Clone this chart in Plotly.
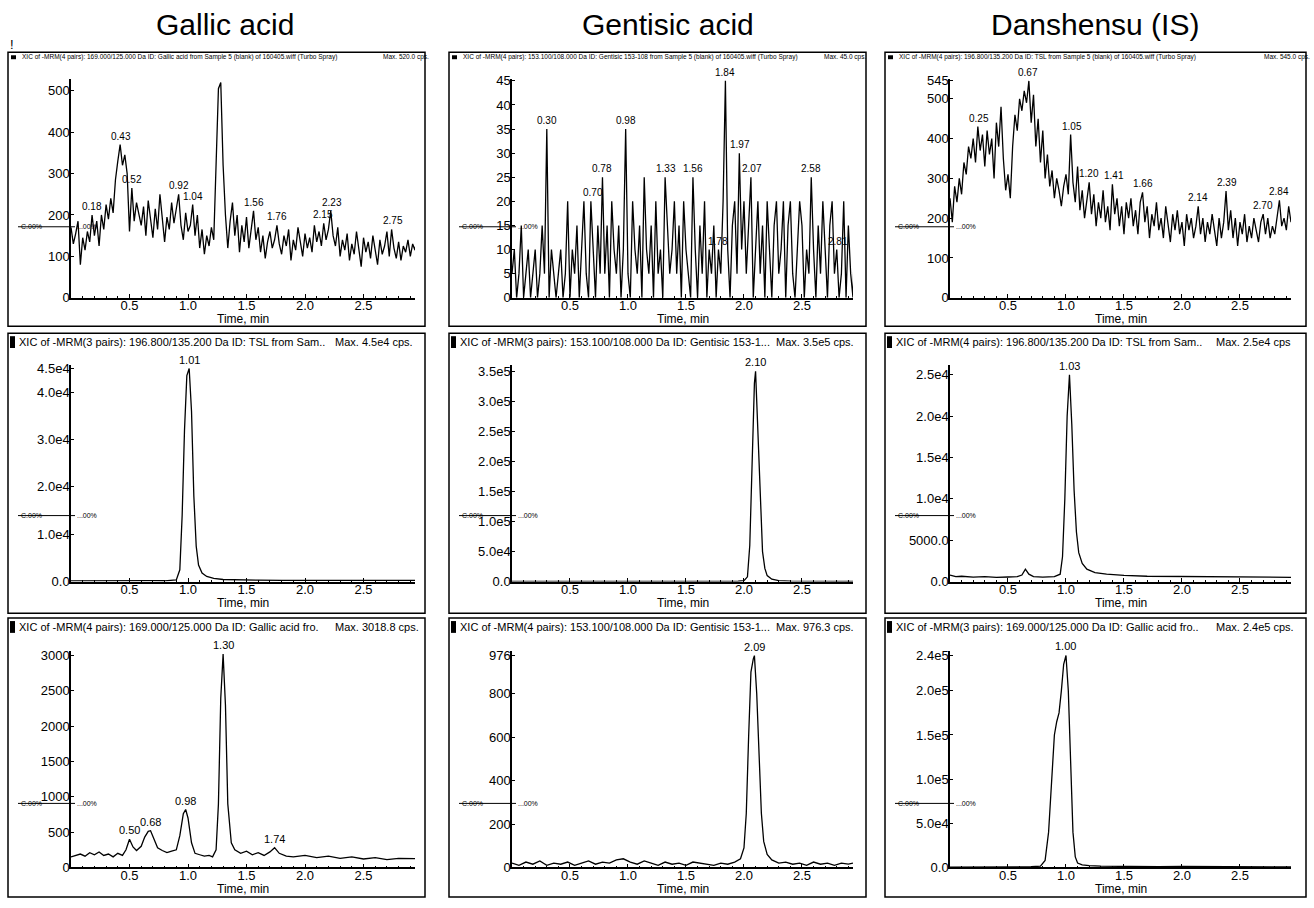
import numpy as np
import plotly.graph_objects as go

W, H = 1314, 908
FONT = "Liberation Sans, Arial, sans-serif"

# ---------------- data ----------------
# blank-sample traces, sampled every 0.02 min
t_blank = np.round(np.arange(150) * 0.02, 2)

gallic_blank = [
    170, 130, 155, 185, 80, 145, 115, 160, 135, 200,
    150, 185, 125, 200, 165, 225, 190, 240, 205, 285,
    330, 370, 320, 345, 300, 160, 265, 185, 230, 205,
    175, 220, 150, 235, 190, 145, 215, 165, 250, 200,
    135, 195, 165, 230, 180, 215, 250, 175, 140, 205,
    160, 175, 225, 150, 200, 120, 165, 105, 150, 125,
    170, 140, 300, 505, 520, 320, 200, 120, 185, 230,
    150, 200, 110, 175, 135, 195, 120, 165, 210, 140,
    170, 110, 150, 95, 135, 160, 120, 140, 175, 130,
    105, 150, 125, 165, 90, 140, 115, 170, 130, 100,
    155, 120, 145, 110, 175, 135, 160, 125, 180, 140,
    165, 210, 150, 125, 170, 100, 140, 115, 155, 90,
    130, 105, 160, 120, 75, 145, 110, 135, 95, 150,
    115, 80, 140, 105, 125, 160, 100, 165, 120, 95,
    135, 90, 125, 110, 140, 100, 130, 115, 150, 120,
]

gentisic_blank = [
    5, 10, 0, 5, 15, 0, 5, 10, 0, 5,
    10, 0, 5, 15, 5, 35, 0, 10, 5, 0,
    5, 10, 0, 5, 20, 0, 10, 5, 15, 0,
    10, 20, 5, 0, 20, 10, 0, 15, 5, 25,
    5, 15, 0, 20, 10, 5, 15, 0, 10, 35,
    5, 0, 20, 10, 5, 15, 0, 25, 10, 5,
    15, 0, 20, 5, 10, 0, 25, 15, 5, 10,
    20, 5, 15, 0, 20, 10, 5, 0, 25, 10,
    0, 15, 5, 20, 0, 10, 5, 15, 0, 10,
    5, 20, 45, 10, 0, 15, 20, 5, 30, 10,
    20, 5, 15, 25, 0, 10, 20, 5, 15, 0,
    20, 10, 0, 15, 20, 5, 10, 20, 0, 15,
    20, 5, 0, 10, 20, 15, 0, 10, 5, 25,
    10, 0, 15, 5, 20, 10, 0, 15, 20, 5,
    10, 0, 5, 20, 0, 15, 5, 0, 20, 5,
]

danshensu_blank = [
    250, 190, 280, 240, 300, 260, 340, 310, 380, 350,
    400, 340, 430, 370, 410, 330, 420, 360, 400, 300,
    440, 380, 480, 350, 270, 310, 250, 380, 460, 420,
    500, 470, 520, 490, 545, 440, 510, 380, 450, 340,
    420, 300, 360, 280, 320, 250, 300, 270, 230, 280,
    310, 260, 410, 290, 240, 330, 220, 270, 200, 250,
    290, 210, 260, 180, 240, 200, 270, 190, 230, 170,
    285, 210, 250, 180, 230, 160, 240, 200, 250, 180,
    220, 160, 240, 265, 190, 230, 150, 210, 180, 240,
    170, 200, 150, 230, 180, 140, 210, 170, 220, 160,
    190, 130, 210, 170, 200, 150, 180, 230, 160, 200,
    140, 190, 160, 210, 170, 130, 200, 150, 190, 268,
    170, 220, 150, 200, 130, 190, 160, 210, 140, 180,
    150, 200, 170, 140, 190, 210, 160, 200, 150, 180,
    160, 200, 245, 180, 200, 170, 230, 190, 220, 200,
]

# spiked-sample traces
t_tsl_a = [0.00, 0.10, 0.20, 0.30, 0.40, 0.50, 0.60, 0.70, 0.80, 0.86, 0.90, 0.93, 0.95,
           0.97, 0.99, 1.01, 1.03, 1.05, 1.07, 1.09, 1.12, 1.16, 1.22, 1.30, 1.40, 1.60,
           1.80, 2.00, 2.20, 2.40, 2.60, 2.80, 2.94]
v_tsl_a = [150, 180, 140, 200, 160, 190, 170, 210, 180, 220, 350, 2500, 14000,
           32000, 43500, 45000, 36000, 18000, 7500, 3500, 1800, 1100, 700, 450, 350, 300,
           280, 260, 300, 250, 270, 240, 260]

t_gent_a = [0.00, 0.20, 0.40, 0.60, 0.80, 1.00, 1.20, 1.40, 1.60, 1.80, 1.95, 2.00, 2.03,
            2.05, 2.07, 2.09, 2.10, 2.12, 2.14, 2.16, 2.18, 2.20, 2.24, 2.30, 2.40, 2.60,
            2.80, 2.94]
v_gent_a = [300, 250, 350, 280, 320, 300, 270, 350, 300, 280, 600, 1500, 8000,
            60000, 200000, 330000, 350000, 250000, 120000, 50000, 22000, 10000, 4000,
            1500, 800, 500, 400, 350]

t_tsl_b = [0.00, 0.05, 0.10, 0.20, 0.30, 0.40, 0.50, 0.58, 0.62, 0.65, 0.68, 0.72, 0.80,
           0.90, 0.95, 0.97, 0.99, 1.01, 1.03, 1.05, 1.07, 1.09, 1.11, 1.14, 1.18, 1.25,
           1.35, 1.50, 1.70, 2.00, 2.30, 2.60, 2.94]
v_tsl_b = [800, 600, 650, 550, 600, 520, 560, 600, 800, 1500, 900, 600, 550,
           600, 900, 3000, 10000, 20000, 25000, 19000, 11000, 6000, 3500, 2200, 1500, 1100,
           900, 750, 650, 600, 550, 500, 520]

t_gal_b = [0.00, 0.04, 0.08, 0.12, 0.16, 0.20, 0.24, 0.28, 0.32, 0.36, 0.40, 0.44, 0.47,
           0.50, 0.53, 0.56, 0.60, 0.63, 0.66, 0.68, 0.71, 0.74, 0.78, 0.82, 0.86, 0.90,
           0.93, 0.96, 0.98, 1.00, 1.03, 1.06, 1.10, 1.14, 1.18, 1.21, 1.24, 1.26, 1.28,
           1.30, 1.32, 1.34, 1.37, 1.40, 1.45, 1.50, 1.55, 1.60, 1.65, 1.70, 1.74, 1.78,
           1.84, 1.90, 2.00, 2.10, 2.20, 2.30, 2.40, 2.50, 2.60, 2.70, 2.80, 2.90, 2.94]
v_gal_b = [150, 170, 190, 160, 210, 180, 220, 170, 190, 150, 200, 170, 250,
           400, 290, 240, 300, 430, 510, 520, 400, 280, 240, 210, 230, 250,
           450, 760, 820, 700, 350, 200, 180, 160, 170, 150, 250, 900, 2400,
           3018, 2300, 900, 350, 250, 200, 230, 180, 210, 170, 220, 280, 200,
           160, 150, 170, 140, 160, 130, 150, 120, 140, 110, 130, 120, 125]

t_gent_b = [0.00, 0.06, 0.12, 0.18, 0.24, 0.30, 0.36, 0.42, 0.48, 0.54, 0.60, 0.66, 0.72,
            0.78, 0.84, 0.90, 0.96, 1.02, 1.08, 1.14, 1.20, 1.26, 1.32, 1.38, 1.44, 1.50,
            1.56, 1.62, 1.68, 1.74, 1.80, 1.86, 1.92, 1.97, 2.00, 2.02, 2.04, 2.06, 2.08,
            2.09, 2.11, 2.13, 2.15, 2.17, 2.20, 2.24, 2.30, 2.36, 2.42, 2.48, 2.54, 2.60,
            2.66, 2.72, 2.78, 2.84, 2.90, 2.94]
v_gent_b = [20, 10, 25, 15, 30, 10, 20, 15, 25, 10, 20, 30, 15,
            25, 20, 35, 40, 25, 15, 30, 20, 10, 25, 15, 20, 10,
            25, 20, 15, 10, 20, 15, 25, 40, 90, 250, 600, 900, 960,
            976, 800, 500, 250, 120, 60, 35, 20, 25, 15, 20, 10, 25,
            15, 20, 10, 20, 15, 20]

t_gal_c = [0.00, 0.20, 0.40, 0.60, 0.70, 0.78, 0.82, 0.85, 0.88, 0.90, 0.92, 0.94, 0.96,
           0.98, 1.00, 1.02, 1.04, 1.06, 1.08, 1.10, 1.14, 1.20, 1.30, 1.50, 1.80, 2.00,
           2.20, 2.40, 2.60, 2.80, 2.94]
v_gal_c = [500, 400, 500, 600, 800, 1500, 8000, 40000, 110000, 150000, 165000, 175000,
           200000, 230000, 240000, 200000, 120000, 40000, 12000, 5000, 3000, 2000, 1500,
           1000, 800, 1200, 900, 700, 800, 600, 700]

# retention-time labels per panel
rt_gallic_blank = ["0.18", "0.43", "0.52", "0.92", "1.04", "1.56", "1.76", "2.15", "2.23", "2.75"]
rt_gentisic_blank = ["0.30", "0.70", "0.78", "0.98", "1.33", "1.56", "1.78", "1.84", "1.97",
                     "2.07", "2.58", "2.81"]
rt_danshensu_blank = ["0.25", "0.67", "1.05", "1.20", "1.41", "1.66", "2.14", "2.39", "2.70", "2.84"]
rt_tsl_a = ["1.01"]
rt_gent_a = ["2.10"]
rt_tsl_b = ["1.03"]
rt_gal_b = ["0.50", "0.68", "0.98", "1.30", "1.74"]
rt_gent_b = ["2.09"]
rt_gal_c = ["1.00"]

# y tick labels per panel
yt_gallic_blank = [0, 100, 200, 300, 400, 500]
yt_gentisic_blank = [0, 5, 10, 15, 20, 25, 30, 35, 40, 45]
yt_danshensu_blank = [0, 100, 200, 300, 400, 500, 545]
yt_tsl_a = [0, 1.0e4, 2.0e4, 3.0e4, 4.0e4, 4.5e4]
yt_tsl_a_txt = ["0.0", "1.0e4", "2.0e4", "3.0e4", "4.0e4", "4.5e4"]
yt_gent_a = [0, 5e4, 1e5, 1.5e5, 2e5, 2.5e5, 3e5, 3.5e5]
yt_gent_a_txt = ["0.0", "5.0e4", "1.0e5", "1.5e5", "2.0e5", "2.5e5", "3.0e5", "3.5e5"]
yt_tsl_b = [0, 5000, 1e4, 1.5e4, 2e4, 2.5e4]
yt_tsl_b_txt = ["0.0", "5000.0", "1.0e4", "1.5e4", "2.0e4", "2.5e4"]
yt_gal_b = [0, 500, 1000, 1500, 2000, 2500, 3000]
yt_gent_b = [0, 200, 400, 600, 800, 976]
yt_gal_c = [0, 5e4, 1e5, 1.5e5, 2e5, 2.4e5]
yt_gal_c_txt = ["0.0", "5.0e4", "1.0e5", "1.5e5", "2.0e5", "2.4e5"]

x_ticks = [0.5, 1.0, 1.5, 2.0, 2.5]
x_tick_txt = ["0.5", "1.0", "1.5", "2.0", "2.5"]

titles = ["Gallic acid", "Gentisic acid", "Danshensu (IS)"]

headers = [
    ("XIC of -MRM(4 pairs): 169.000/125.000 Da ID: Gallic acid from Sample 5 (blank) of 160405.wiff (Turbo Spray)", "Max. 520.0 cps."),
    ("XIC of -MRM(4 pairs): 153.100/108.000 Da ID: Gentisic 153-108 from Sample 5 (blank) of 160405.wiff (Turbo Spray)", "Max. 45.0 cps."),
    ("XIC of -MRM(4 pairs): 196.800/135.200 Da ID: TSL from Sample 5 (blank) of 160405.wiff (Turbo Spray)", "Max. 545.0 cps."),
    ("XIC of -MRM(3 pairs): 196.800/135.200 Da ID: TSL from Sam..", "Max. 4.5e4 cps."),
    ("XIC of -MRM(3 pairs): 153.100/108.000 Da ID: Gentisic 153-1...", "Max. 3.5e5 cps."),
    ("XIC of -MRM(4 pairs): 196.800/135.200 Da ID: TSL from Sam..", "Max. 2.5e4 cps"),
    ("XIC of -MRM(4 pairs): 169.000/125.000 Da ID: Gallic acid fro.", "Max. 3018.8 cps."),
    ("XIC of -MRM(4 pairs): 153.100/108.000 Da ID: Gentisic 153-1...", "Max. 976.3 cps."),
    ("XIC of -MRM(3 pairs): 169.000/125.000 Da ID: Gallic acid fro..", "Max. 2.4e5 cps."),
]

panels = [
    dict(t=t_blank, v=gallic_blank, rt=rt_gallic_blank, yt=yt_gallic_blank, ytt=None, ymax=528.6),
    dict(t=t_blank, v=gentisic_blank, rt=rt_gentisic_blank, yt=yt_gentisic_blank, ytt=None, ymax=45.4),
    dict(t=t_blank, v=danshensu_blank, rt=rt_danshensu_blank, yt=yt_danshensu_blank, ytt=None, ymax=550),
    dict(t=t_tsl_a, v=v_tsl_a, rt=rt_tsl_a, yt=yt_tsl_a, ytt=yt_tsl_a_txt, ymax=4.58e4),
    dict(t=t_gent_a, v=v_gent_a, rt=rt_gent_a, yt=yt_gent_a, ytt=yt_gent_a_txt, ymax=3.61e5),
    dict(t=t_tsl_b, v=v_tsl_b, rt=rt_tsl_b, yt=yt_tsl_b, ytt=yt_tsl_b_txt, ymax=2.62e4),
    dict(t=t_gal_b, v=v_gal_b, rt=rt_gal_b, yt=yt_gal_b, ytt=None, ymax=3068),
    dict(t=t_gent_b, v=v_gent_b, rt=rt_gent_b, yt=yt_gent_b, ytt=None, ymax=999),
    dict(t=t_gal_c, v=v_gal_c, rt=rt_gal_c, yt=yt_gal_c, ytt=yt_gal_c_txt, ymax=2.455e5),
]

# ---------------- geometry (pixels) ----------------
COL_AXIS = [(71, 415), (512, 853), (950, 1291)]
ROW_AXIS = [(297, 75), (585, 365), (875, 655)]
COL_BOX = [(8, 425), (449, 866), (885, 1306)]
ROW_BOX = [(48, 326), (333, 617), (622, 905)]
MARK_Y = [225, 518, 810]
TITLE_X = [225, 668, 1095]


def fx(x):
    return x / W


def fy(y):
    return 1 - y / H


fig = go.Figure()
layout = {}
annotations = []
shapes = []

for k, p in enumerate(panels):
    r, c = divmod(k, 3)
    n = k + 1
    xa = "x" if n == 1 else f"x{n}"
    ya = "y" if n == 1 else f"y{n}"
    xkey = "xaxis" if n == 1 else f"xaxis{n}"
    ykey = "yaxis" if n == 1 else f"yaxis{n}"

    fig.add_trace(go.Scatter(x=p["t"], y=p["v"], mode="lines",
                             line=dict(color="black", width=1.3),
                             xaxis=xa, yaxis=ya, showlegend=False, hoverinfo="skip"))

    x0, x1 = COL_AXIS[c]
    yb, yt = ROW_AXIS[r]
    layout[xkey] = dict(domain=[fx(x0), fx(x1)], range=[0, 2.94], anchor=ya,
                        showline=True, linecolor="black", linewidth=1.5,
                        showgrid=False, zeroline=False,
                        ticks="inside", ticklen=4, tickcolor="black",
                        tickvals=x_ticks, ticktext=x_tick_txt,
                        ticklabelstandoff=-5,
                        tickfont=dict(family=FONT, size=13, color="black"),
                        minor=dict(ticks="inside", ticklen=2, dtick=0.1, tick0=0,
                                   tickcolor="black", showgrid=False),
                        fixedrange=True)
    ytxt = p["ytt"] if p["ytt"] is not None else [str(v) for v in p["yt"]]
    layout[ykey] = dict(domain=[fy(yb), fy(yt)], range=[0, p["ymax"]], anchor=xa,
                        showline=True, linecolor="black", linewidth=1.5,
                        showgrid=False, zeroline=False,
                        ticks="inside", ticklen=3, tickcolor="black",
                        tickvals=p["yt"], ticktext=ytxt,
                        ticklabelstandoff=-3,
                        tickfont=dict(family=FONT, size=13, color="black"),
                        fixedrange=True)

    # retention-time labels above each apex
    tt = np.asarray(p["t"], dtype=float)
    vv = np.asarray(p["v"], dtype=float)
    for lab in p["rt"]:
        rt = float(lab)
        sel = np.abs(tt - rt) <= 0.021
        apex = vv[sel].max() if sel.any() else np.interp(rt, tt, vv)
        annotations.append(dict(x=rt, y=apex, xref=xa, yref=ya, text=lab,
                                showarrow=False, xanchor="center", yanchor="bottom", yshift=1,
                                font=dict(family=FONT, size=10 if r == 0 else 11, color="black")))

    # panel frame
    bx0, bx1 = COL_BOX[c]
    by0, by1 = ROW_BOX[r]
    shapes.append(dict(type="rect", xref="paper", yref="paper",
                       x0=fx(bx0), x1=fx(bx1), y0=fy(by1), y1=fy(by0),
                       line=dict(color="black", width=1.5), fillcolor="rgba(0,0,0,0)"))

    # header line
    left, right = headers[k]
    if r == 0:
        hy = by0 + 5
        shapes.append(dict(type="rect", xref="paper", yref="paper",
                           x0=fx(bx0 + 3), x1=fx(bx0 + 8), y0=fy(hy + 2), y1=fy(hy - 2),
                           line=dict(width=0), fillcolor="black"))
        annotations.append(dict(x=fx(bx0 + 12), y=fy(hy), xref="paper", yref="paper",
                                text=left, showarrow=False, xanchor="left", yanchor="middle",
                                font=dict(family=FONT, size=6.5, color="black")))
        annotations.append(dict(x=fx(bx1 - 44), y=fy(hy), xref="paper", yref="paper",
                                text=right, showarrow=False, xanchor="left", yanchor="middle",
                                font=dict(family=FONT, size=6.5, color="black")))
    else:
        hy = by0 + 9
        shapes.append(dict(type="rect", xref="paper", yref="paper",
                           x0=fx(bx0 + 2), x1=fx(bx0 + 7), y0=fy(hy + 6), y1=fy(hy - 6),
                           line=dict(width=0), fillcolor="black"))
        annotations.append(dict(x=fx(bx0 + 9), y=fy(hy), xref="paper", yref="paper",
                                text=left, showarrow=False, xanchor="left", yanchor="middle",
                                font=dict(family=FONT, size=11, color="black")))
        annotations.append(dict(x=fx(bx1 - 92), y=fy(hy), xref="paper", yref="paper",
                                text=right, showarrow=False, xanchor="left", yanchor="middle",
                                font=dict(family=FONT, size=11, color="black")))

    # axis title
    annotations.append(dict(x=fx((x0 + x1) / 2), y=fy(yb + 22), xref="paper", yref="paper",
                            text="Time, min", showarrow=False, xanchor="center", yanchor="middle",
                            font=dict(family=FONT, size=12, color="black")))

    # baseline marker at left of plot
    my = MARK_Y[r]
    shapes.append(dict(type="line", xref="paper", yref="paper",
                       x0=fx(bx0 + 10), x1=fx(x0 + 4), y0=fy(my), y1=fy(my),
                       line=dict(color="black", width=1)))
    annotations.append(dict(x=fx(bx0 + 11), y=fy(my), xref="paper", yref="paper",
                            text="C.00%", showarrow=False, xanchor="left", yanchor="middle",
                            font=dict(family=FONT, size=7, color="black")))
    annotations.append(dict(x=fx(x0 + 4), y=fy(my), xref="paper", yref="paper",
                            text="...00%", showarrow=False, xanchor="left", yanchor="middle",
                            font=dict(family=FONT, size=7, color="black")))

for c, ttl in enumerate(titles):
    annotations.append(dict(x=fx(TITLE_X[c]), y=fy(20), xref="paper", yref="paper",
                            text=ttl, showarrow=False, xanchor="center", yanchor="middle",
                            font=dict(family=FONT, size=30, color="black")))
annotations.append(dict(x=fx(12), y=fy(40), xref="paper", yref="paper", text="!",
                        showarrow=False, xanchor="center", yanchor="middle",
                        font=dict(family=FONT, size=13, color="black")))

fig.update_layout(width=W, height=H, margin=dict(l=0, r=0, t=0, b=0),
                  paper_bgcolor="white", plot_bgcolor="white",
                  showlegend=False, annotations=annotations, shapes=shapes, **layout)

fig.write_html("out.html")
